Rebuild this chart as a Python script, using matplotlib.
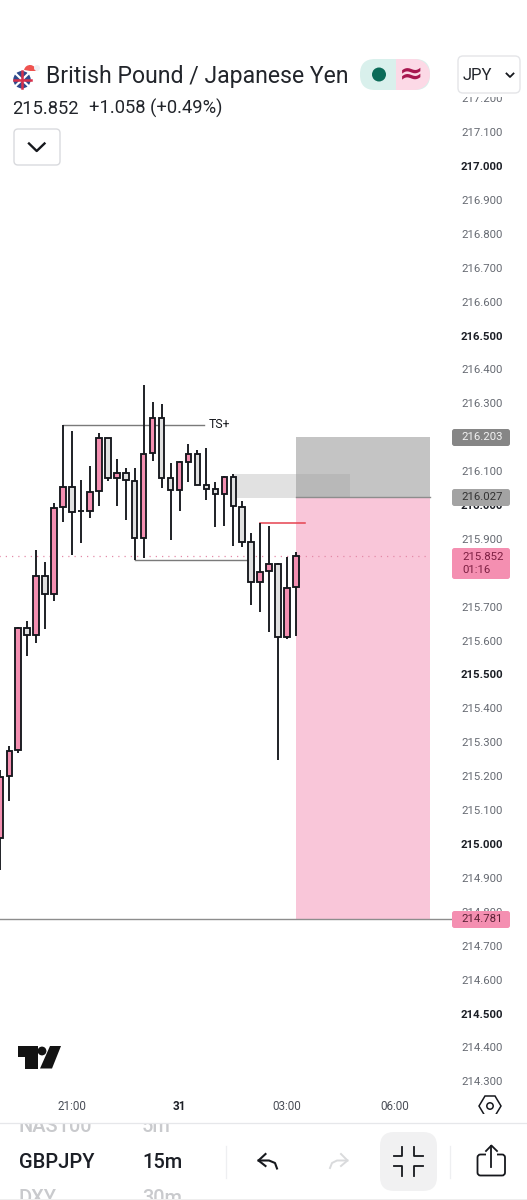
#!/usr/bin/env python3
"""GBPJPY 15m phone screenshot rebuilt with matplotlib."""
import matplotlib
matplotlib.use('Agg')
import matplotlib.pyplot as plt
from matplotlib.patches import Rectangle, FancyBboxPatch, Circle, Polygon, Wedge

plt.rcParams['font.family'] = ['Roboto', 'DejaVu Sans']

W, H = 527, 1200

# candle index relative to the 21:00 bar
bar_index = list(range(-8, 26))
opens = [215.021, 215.203, 215.280, 215.640, 215.619, 215.793, 215.740, 215.998, 216.057,
         215.986, 215.986, 216.045, 216.201, 216.083, 216.098, 216.075, 215.906, 216.156,
         216.260, 216.083, 216.047, 216.131, 216.153, 216.061, 216.049, 216.035, 216.085,
         215.998, 215.894, 215.775, 215.807, 215.830, 215.613, 215.760]
highs = [215.221, 215.292, 215.643, 215.662, 215.870, 215.835, 216.010, 216.239, 216.221,
         216.077, 216.119, 216.215, 216.201, 216.139, 216.113, 216.113, 216.357, 216.308,
         216.301, 216.128, 216.132, 216.183, 216.165, 216.171, 216.072, 216.088, 216.094,
         216.016, 215.920, 215.949, 215.941, 215.833, 215.850, 215.863]
lows = [214.926, 215.131, 215.271, 215.557, 215.596, 215.637, 215.721, 215.954, 215.855,
        215.891, 215.965, 216.000, 216.074, 216.000, 215.959, 215.841, 215.847, 216.134,
        216.054, 215.900, 215.986, 216.072, 216.061, 216.018, 215.939, 215.942, 215.882,
        215.880, 215.708, 215.688, 215.629, 215.251, 215.608, 215.616]
closes = [215.201, 215.278, 215.640, 215.619, 215.793, 215.740, 215.995, 216.057, 215.982,
          215.986, 216.042, 216.201, 216.083, 216.098, 216.077, 215.906, 216.153, 216.260,
          216.083, 216.047, 216.129, 216.153, 216.061, 216.051, 216.035, 216.085, 216.000,
          215.895, 215.775, 215.806, 215.829, 215.613, 215.757, 215.852]

price_ticks = [214.3, 214.4, 214.5, 214.6, 214.7, 214.8, 214.9, 215.0, 215.1, 215.2, 215.3,
               215.4, 215.5, 215.6, 215.7, 215.8, 215.9, 216.0, 216.1, 216.2, 216.3, 216.4,
               216.5, 216.6, 216.7, 216.8, 216.9, 217.0, 217.1, 217.2]
time_ticks = [0, 12, 24, 36]
time_labels = ['21:00', '31', '03:00', '06:00']

last_price = 215.852
stop_price = 216.203
entry_price = 216.027
target_price = 214.781

PINK = '#f48fb1'
GREY_BODY = '#e0e0e0'
INK = '#16181d'

fig = plt.figure(figsize=(W / 100, H / 100), dpi=100, facecolor='white')

# chart axes: fills the page, scales set so that price/index land on the screenshot pixels
ax = fig.add_axes([0, 0, 1, 1])
ax.set_xlim(-72 / 8.96, (W - 72) / 8.96)
ax.set_ylim(217 - (H - 167) / 339, 217 + 167 / 339)
ax.axis('off')

# position tool
ax.add_patch(Rectangle((25, entry_price), 15, stop_price - entry_price, fc='#c4c4c4', ec='none', zorder=1))
ax.add_patch(Rectangle((25, target_price), 15, entry_price - target_price, fc='#f9c6d9', ec='none', zorder=1))
ax.add_patch(Rectangle((18, entry_price - 0.003), 13, 0.071, fc='#9e9e9e', alpha=0.3, ec='none', zorder=2))
ax.plot([25, 40], [entry_price, entry_price], color='#8d8d8d', lw=1, zorder=2)
ax.plot([-9, 42.3], [target_price, target_price], color='#8d8d8d', lw=1, zorder=2)

# drawn levels
ax.plot([-1, 14.7], [216.239, 216.239], color='#7a7a7a', lw=1, zorder=3)
ax.plot([7, 20], [215.841, 215.841], color='#7a7a7a', lw=1, zorder=3)
ax.plot([21, 26], [215.949, 215.949], color='#e5434f', lw=1.1, zorder=3)
ax.plot([-9, 40], [last_price, last_price], color='#e48aa8', lw=0.9, ls=(0, (1, 4)), zorder=2)
ax.text(15.27, 216.239, 'TS+', fontsize=8.8, color=INK, va='center', ha='left', zorder=4)

# candles
for i, o, h, l, c in zip(bar_index, opens, highs, lows, closes):
    ax.plot([i, i], [l, h], color=INK, lw=1.35, solid_capstyle='butt', zorder=5)
    fill = PINK if c >= o else GREY_BODY
    ax.add_patch(Rectangle((i - 0.31, min(o, c)), 0.62, abs(c - o), fc=fill, ec=INK, lw=1.35, zorder=6))

# everything else is laid out in screen pixels
ui = fig.add_axes([0, 0, 1, 1], facecolor='none')
ui.set_xlim(0, W)
ui.set_ylim(H, 0)
ui.axis('off')


def price_y(p):
    return 167 + (217 - p) * 339


def pill(x, y, w, h, color, radius=2.5, ec='none', lw=0, z=10):
    ui.add_patch(FancyBboxPatch((x + radius, y + radius), w - 2 * radius, h - 2 * radius,
                                boxstyle=f'round,pad={radius}', fc=color, ec=ec, lw=lw, zorder=z))


# price scale
for p in price_ticks:
    major = abs(p * 2 - round(p * 2)) < 1e-6
    ui.text(503, price_y(p), f'{p:.3f}', fontsize=8.2, color='#1c1f26' if major else '#666a72',
            fontweight='bold' if major else 'normal', va='center', ha='right', zorder=8)

for value, y, h, bg, fg in [(stop_price, 429, 17, '#868686', '#f2f2f2'),
                            (entry_price, 489, 17, '#a3a3a3', '#333333'),
                            (target_price, 911, 17, '#f48fb1', '#5c2236')]:
    pill(452, y, 58, h, bg)
    ui.text(482.5, y + h / 2, f'{value:.3f}', fontsize=8.2, color=fg, ha='center', va='center', zorder=11)
pill(452, 548, 58, 31, PINK)
ui.text(462, 557, f'{last_price:.3f}', fontsize=8.2, color='#7d1f42', ha='left', va='center', zorder=11)
ui.text(462, 570, '01:16', fontsize=8.2, color='#7d1f42', ha='left', va='center', zorder=11)

# header
ui.add_patch(Rectangle((0, 0), W, 97, fc='white', ec='none', zorder=9))
ui.text(46, 76, 'British Pound / Japanese Yen', fontsize=16.6, color='#22252b', va='center', ha='left', zorder=12)
ui.text(12, 108.5, '215.852', fontsize=13.2, color='#22252b', va='center', ha='left', zorder=12)
ui.text(89, 108.5, '+1.058 (+0.49%)', fontsize=13.2, color='#22252b', va='center', ha='left', zorder=12)

# flag badge
ui.add_patch(Circle((22, 79.7), 8.7, fc='#2f4a8c', ec='none', zorder=12))
ui.plot([16, 28], [74, 85.5], color='white', lw=1.6, zorder=13)
ui.plot([16, 28], [85.5, 74], color='white', lw=1.6, zorder=13)
ui.plot([13.5, 30.5], [79.7, 79.7], color='#d8304a', lw=1.8, zorder=14)
ui.plot([22, 22], [71, 88.4], color='#d8304a', lw=1.8, zorder=14)
ui.add_patch(Wedge((30, 71), 6, 190, 360, fc='#ef5350', ec='none', zorder=13))
ui.add_patch(Circle((37, 68), 3, fc='#eef0f4', ec='none', zorder=13))

# market status pill
pill(360, 59, 70, 31, '#d9f0ec', radius=15)
ui.add_patch(Wedge((414.5, 74.5), 15.5, -90, 90, fc='#fcd9e6', ec='none', zorder=11))
ui.add_patch(Rectangle((396, 59), 18.7, 31, fc='#fcd9e6', ec='none', zorder=11))
ui.add_patch(Circle((379, 74.5), 7, fc='#0b6b58', ec='none', zorder=12))
ui.text(411, 74, '≈', fontsize=21, color='#a8174f', ha='center', va='center', family=['DejaVu Sans'],
        fontweight='bold', zorder=12)

# JPY box and collapse button
pill(458, 56, 62, 37, 'white', radius=5, ec='#e4e5e8', lw=1, z=11)
ui.text(463, 75, 'JPY', fontsize=12, color='#22252b', ha='left', va='center', zorder=12)
ui.plot([506.5, 510, 513.5], [73.5, 77, 73.5], color=INK, lw=1.3, zorder=12)
pill(14, 129, 46, 36, 'white', radius=4, ec='#d9dade', lw=1, z=11)
ui.plot([29, 36.7, 44.5], [143.5, 151, 143.5], color=INK, lw=1.7, zorder=12)

# time axis
for t, label in zip(time_ticks, time_labels):
    bold = label == '31'
    ui.text(72 + 8.96 * t, 1106, label, fontsize=8.4, color='#1c1f26' if bold else '#4a4e57',
            fontweight='bold' if bold else 'normal', ha='center', va='center', zorder=12)

# TradingView logo
ui.add_patch(Polygon([(17.5, 1046), (37.5, 1046), (37.5, 1068.5), (25, 1068.5), (25, 1056.5), (17.5, 1056.5)],
                     fc='#131313', ec='none', zorder=12))
ui.add_patch(Circle((42, 1051), 4.4, fc='#131313', ec='none', zorder=12))
ui.add_patch(Polygon([(50, 1046), (61, 1046), (52, 1068.5), (40, 1068.5)], fc='#131313', ec='none', zorder=12))

# settings hexagon
ui.add_patch(Polygon([(479, 1106), (485, 1096), (495, 1096), (501, 1106), (495, 1116), (485, 1116)],
                     fc='white', ec=INK, lw=1.1, zorder=12))
ui.add_patch(Circle((490, 1106), 3.2, fc='white', ec=INK, lw=1.1, zorder=13))

# bottom bar: scrolling symbol and interval lists
for label, x, y, color in [('NAS100', 19, 1132.5, '#c9cacd'), ('5m', 142, 1132.5, '#c9cacd'),
                           ('GBPJPY', 19, 1168.5, '#1c1f26'), ('15m', 142, 1168.5, '#1c1f26'),
                           ('DXY', 19, 1204, '#c9cacd'), ('30m', 142, 1204, '#c9cacd')]:
    ui.text(x, y, label, fontsize=14.4, color=color, fontweight='medium', ha='left', va='baseline', zorder=12)
ui.add_patch(Rectangle((0, 1114), W, 8.5, fc='white', ec='none', zorder=13))
ui.add_patch(Rectangle((0, 1198.5), W, 1.5, fc='#eeeeee', ec='none', zorder=13))
ui.plot([0, W], [1122.5, 1122.5], color='#e6e7ea', lw=0.9, zorder=14)
ui.plot([226, 226], [1146, 1178], color='#eeeff1', lw=0.9, zorder=12)
ui.plot([450, 450], [1146, 1178], color='#eeeff1', lw=0.9, zorder=12)

# undo / redo
ui.plot([265.5, 258.5, 265.5], [1154, 1160.5, 1166], color=INK, lw=1.5, zorder=12)
ui.plot([258.5, 269, 275, 277], [1160.5, 1160.5, 1163, 1168.5], color=INK, lw=1.5, zorder=12)
ui.plot([341, 347.5, 341], [1154, 1160.5, 1166], color='#d9dadc', lw=1.4, zorder=12)
ui.plot([347.5, 337, 332, 330], [1160.5, 1160.5, 1163, 1168], color='#d9dadc', lw=1.4, zorder=12)

# fullscreen button
pill(380, 1132, 57, 59, '#f1f1f2', radius=14)
for sx, sy in [(-1, -1), (1, -1), (-1, 1), (1, 1)]:
    ui.plot([408.4 + sx * 6, 408.4 + sx * 6, 408.4 + sx * 14.5], [1161 + sy * 14.5, 1161 + sy * 5, 1161 + sy * 5],
            color=INK, lw=1.3, zorder=12)

# share icon
pill(477.5, 1154.5, 27.5, 21, 'none', radius=3, ec=INK, lw=1.3, z=12)
ui.add_patch(Rectangle((486, 1152), 11, 6, fc='white', ec='none', zorder=13))
ui.plot([491.4, 491.4], [1146, 1167], color=INK, lw=1.3, zorder=14)
ui.plot([486, 491.4, 497], [1151, 1145.5, 1151], color=INK, lw=1.3, zorder=14)

fig.savefig('out.png', dpi=100, facecolor='white')
